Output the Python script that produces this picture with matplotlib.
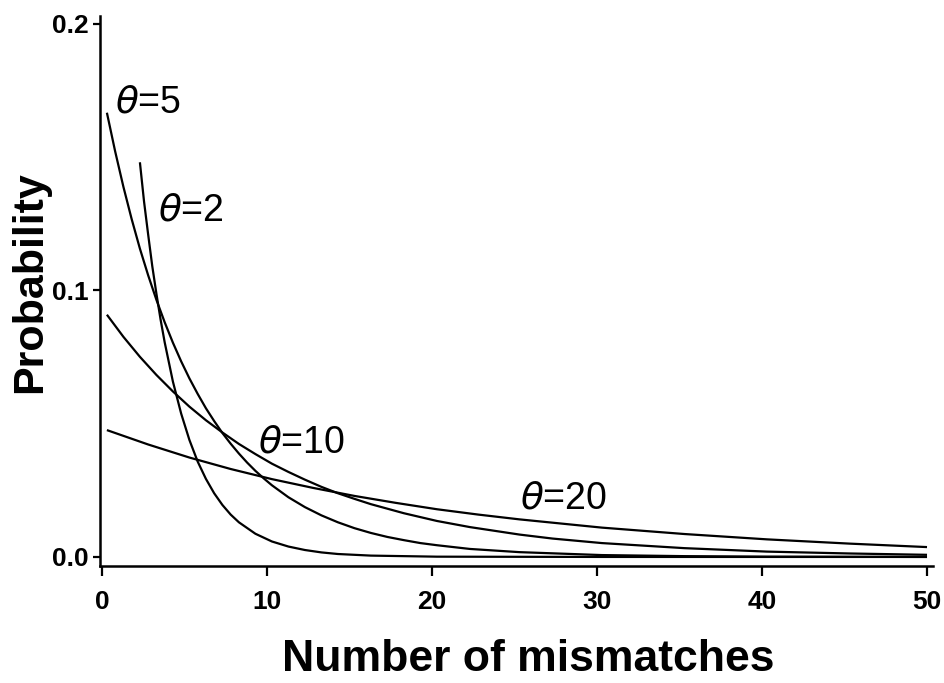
import matplotlib
matplotlib.use("Agg")
import matplotlib.pyplot as plt

# Number of mismatches (positions) and probabilities
x_t2 = [2.3, 2.55, 2.8, 3.05, 3.3, 3.55, 3.8, 4.3, 4.8, 5.3, 5.8, 6.3, 6.8, 7.3, 7.8, 8.3, 9.3, 10.3, 11.3, 12.3, 13.3, 14.3, 16.3, 20.3, 30.3, 50.0]
p_t2 = [0.1481, 0.1334, 0.1210, 0.1091, 0.0988, 0.0892, 0.0806, 0.0658, 0.0538, 0.0439, 0.0358, 0.0293, 0.0239, 0.0195, 0.0159, 0.0130, 0.0087, 0.0058, 0.0039, 0.0026, 0.0017, 0.0011, 0.0005, 0.0001, 0.0, 0.0]

x_t5 = [0.3, 0.8, 1.3, 1.8, 2.3, 2.8, 3.3, 3.8, 4.3, 4.8, 5.3, 5.8, 6.3, 6.8, 7.3, 7.8, 8.3, 8.8, 9.3, 9.8, 10.3, 11.3, 12.3, 13.3, 14.3, 15.3, 16.3, 17.3, 18.3, 19.3, 20.3, 22.3, 25.3, 30.3, 35.3, 40.3, 50.0]
p_t5 = [0.1667, 0.1522, 0.1389, 0.1268, 0.1157, 0.1057, 0.0965, 0.0881, 0.0804, 0.0734, 0.0670, 0.0612, 0.0558, 0.0510, 0.0465, 0.0425, 0.0388, 0.0354, 0.0323, 0.0295, 0.0269, 0.0224, 0.0187, 0.0156, 0.0130, 0.0108, 0.0090, 0.0075, 0.0063, 0.0052, 0.0044, 0.0030, 0.0018, 0.0007, 0.0003, 0.0001, 0.0]

x_t10 = [0.3, 1.3, 2.3, 3.3, 4.3, 5.3, 6.3, 7.3, 8.3, 9.3, 10.3, 11.3, 12.3, 13.3, 14.3, 15.3, 16.3, 18.3, 20.3, 22.3, 25.3, 27.3, 30.3, 35.3, 40.3, 45.3, 50.0]
p_t10 = [0.0909, 0.0826, 0.0751, 0.0683, 0.0621, 0.0564, 0.0513, 0.0467, 0.0424, 0.0386, 0.0350, 0.0319, 0.0290, 0.0263, 0.0239, 0.0218, 0.0198, 0.0164, 0.0135, 0.0112, 0.0084, 0.0069, 0.0052, 0.0033, 0.0020, 0.0013, 0.0008]

x_t20 = [0.3, 2.8, 5.3, 7.8, 10.3, 12.8, 15.3, 17.8, 20.3, 22.8, 25.3, 30.3, 35.3, 40.3, 45.3, 50.0]
p_t20 = [0.0476, 0.0422, 0.0373, 0.0330, 0.0292, 0.0259, 0.0229, 0.0203, 0.0179, 0.0159, 0.0141, 0.0110, 0.0086, 0.0066, 0.0050, 0.0037]

labels = [r"$\theta$=5", r"$\theta$=2", r"$\theta$=10", r"$\theta$=20"]
label_x = [2.8, 5.4, 12.1, 28.0]
label_y = [0.1707, 0.1300, 0.0428, 0.0221]

xticks = [0, 10, 20, 30, 40, 50]
yticks = [0.0, 0.1, 0.2]
yticklabels = ["0.0", "0.1", "0.2"]

plt.rcParams['font.family'] = ['Liberation Sans', 'DejaVu Sans']
plt.rcParams['mathtext.fontset'] = 'dejavusans'

fig = plt.figure(figsize=(9.44, 6.83), dpi=100)
ax = fig.add_axes([0.1059, 0.1713, 0.8824, 0.8053])

for xs, ps in [(x_t2, p_t2), (x_t5, p_t5), (x_t10, p_t10), (x_t20, p_t20)]:
    ax.plot(xs, ps, color='black', lw=1.6, solid_capstyle='butt')

for t, lx, ly in zip(labels, label_x, label_y):
    ax.text(lx, ly, t, fontsize=27, ha='center', va='center', color='black')

ax.set_xlim(-0.12, 50.36)
ax.set_ylim(-0.0034, 0.203)
ax.spines['top'].set_visible(False)
ax.spines['right'].set_visible(False)
for s in ['left', 'bottom']:
    ax.spines[s].set_linewidth(1.8)

ax.set_xticks(xticks)
ax.set_xticklabels([str(v) for v in xticks], fontsize=19, fontweight='bold')
ax.set_yticks(yticks)
ax.set_yticklabels(yticklabels, fontsize=19, fontweight='bold')
ax.tick_params(axis='x', direction='out', length=7, width=1.6, pad=10)
ax.tick_params(axis='y', direction='out', length=5, width=1.6, pad=3)

fig.text(0.560, 0.034, "Number of mismatches", fontsize=32, ha='center', va='center', fontweight='bold')
fig.text(0.032, 0.587, "Probability", fontsize=31, ha='center', va='center', rotation=90, fontweight='bold')

fig.savefig("out.png", dpi=100)
